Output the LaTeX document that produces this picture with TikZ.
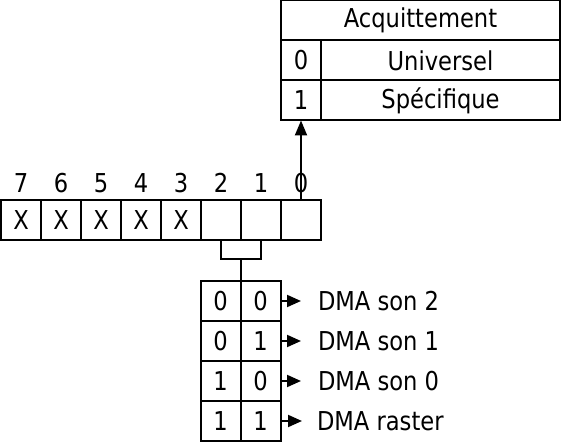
\documentclass[tikz,border=0pt]{standalone}
\usepackage{fontspec}
\setmainfont{DejaVu Sans}[FakeStretch=0.87]
\usetikzlibrary{arrows.meta}
\tikzset{
  cell/.style={draw,line width=1pt,minimum width=20pt,minimum height=20pt,inner sep=0pt,outer sep=0pt},
  bit/.style={inner sep=0pt},
  selarrow/.style={-{Triangle[length=7pt,width=6pt]},shorten >=8pt}
}
\begin{document}
\begin{tikzpicture}[x=0.5pt,y=-0.5pt,line width=1pt,font=\fontsize{13}{15}\selectfont]
  \useasboundingbox (0,0) rectangle (562,442);
  % register bits
  \foreach \b/\v in {7/X,6/X,5/X,4/X,3/X,2/,1/,0/} {
    \node[cell] (r\b) at ({21+40*(7-\b)},220.5) {\v};
    \node[bit] (n\b) at ({21+40*(7-\b)},183) {\b};
  }
  % acknowledge table
  \node[cell,minimum width=139.5pt] (ack) at (420.5,20.5) {Acquittement};
  \node[cell] (a0) at (301,60.5) {0};
  \node[cell,minimum width=119.5pt] (univ) at (440.5,60.5) {Universel};
  \node[cell] (a1) at (301,100.5) {1};
  \node[cell,minimum width=119.5pt] (spec) at (440.5,100.5) {Spécifique};
  \draw[-{Triangle[length=7.5pt,width=6pt]}] (r0.north) -- (a1.south);
  % DMA table
  \node[cell] (d0a) at (220.5,301) {0};
  \node[cell] (d0b) at (260.5,301) {0};
  \node[cell] (d1a) at (220.5,341) {0};
  \node[cell] (d1b) at (260.5,341) {1};
  \node[cell] (d2a) at (220.5,381) {1};
  \node[cell] (d2b) at (260.5,381) {0};
  \node[cell] (d3a) at (220.5,421) {1};
  \node[cell] (d3b) at (260.5,421) {1};
  \node[bit,anchor=west] (son2) at (317,301) {DMA son 2};
  \node[bit,anchor=west] (son1) at (317,341) {DMA son 1};
  \node[bit,anchor=west] (son0) at (317,381) {DMA son 0};
  \node[bit,anchor=west] (raster) at (316,421) {DMA raster};
  \path[selarrow] (d0b.east) edge (son2.west)
    (d1b.east) edge (son1.west)
    (d2b.east) edge (son0.west)
    (d3b.east) edge[shorten >=7pt] (raster.west);
  % select bits 2 and 1
  \coordinate (fork) at (240.5,259.5);
  \draw (r2.south) |- (fork) -| (r1.south);
  \draw (fork) -- (d0a.north east);
\end{tikzpicture}
\end{document}
